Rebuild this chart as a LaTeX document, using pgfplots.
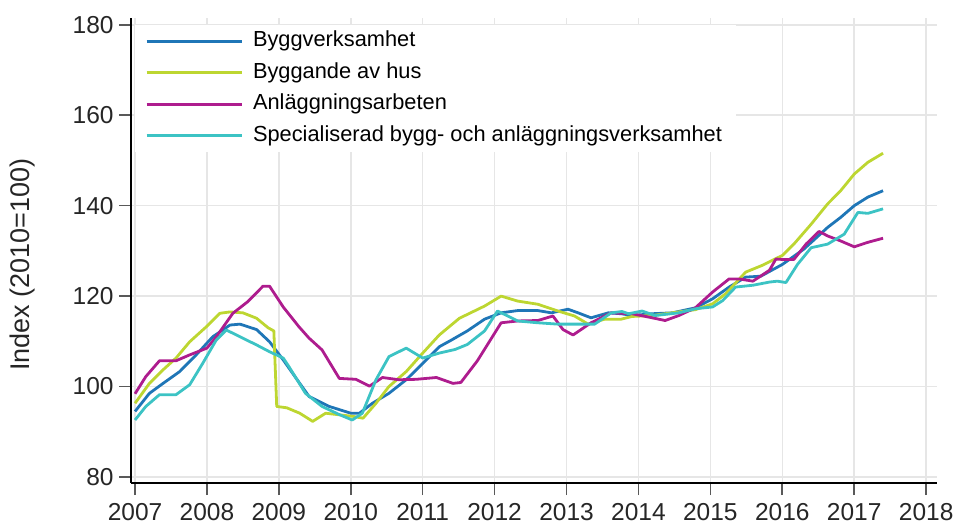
\documentclass[border=0pt]{standalone}
\usepackage{pgfplots}
\pgfplotsset{compat=1.18}
\usepackage{fontspec}
\setmainfont{Liberation Sans}
\definecolor{cblue}{HTML}{1F76B7}
\definecolor{cgreen}{HTML}{BDD631}
\definecolor{cpurple}{HTML}{AE1C8E}
\definecolor{ccyan}{HTML}{3CC3C4}
\definecolor{gridc}{HTML}{E6E6E6}
\begin{document}
\begin{tikzpicture}
\path[use as bounding box] (0,0) rectangle (955bp,530bp);
\begin{axis}[
  at={(131bp,47bp)}, anchor=south west,
  scale only axis, width=806bp, height=465bp,
  xmin=2006.944, xmax=2018.15, ymin=78.67, ymax=181.5,
  axis x line=bottom, axis y line=left,
  axis line style={black, line width=1.6bp, -},
  xtick={2007,...,2018}, ytick={80,100,...,180},
  tick align=outside, major tick length=12bp,
  tick style={line width=1.6bp, color=black!65},
  grid=major, major grid style={gridc, line width=1.5bp},
  /pgf/number format/assume math mode=true,
  /pgf/number format/set thousands separator={},
  ticklabel style={font=\fontsize{24.5bp}{26bp}\selectfont, text=black!85},
  xticklabel style={yshift=-5bp},
  yticklabel style={xshift=-2bp},
  ylabel={Index (2010=100)},
  ylabel style={at={(axis description cs:-0.135,0.47)}, anchor=center, font=\fontsize{27bp}{29bp}\selectfont, text=black!85},
  legend cell align=left,
  legend style={at={(rel axis cs:0.005,0.985)}, anchor=north west, draw=none, fill=white,
    font=\fontsize{21.8bp}{23bp}\selectfont, inner xsep=10bp, inner ysep=6bp,
    row sep=11.5bp, nodes={text height=15.5bp, text depth=4.5bp, inner xsep=4bp, inner ysep=0bp},
    /tikz/every odd column/.append style={column sep=6bp}},
  legend image code/.code={\draw[#1] (0bp,0bp) -- (95bp,0bp);},
  every axis plot/.append style={line width=2.8bp, line join=round},
]
\addplot[cblue] coordinates {
(2007.0,94.5) (2007.2,98.5) (2007.39,100.7) (2007.62,103.3) (2007.85,107) (2008.08,111) (2008.32,113.6) (2008.46,113.8) (2008.69,112.6) (2008.87,109.9) (2009.06,105.9) (2009.29,100.7) (2009.42,97.8) (2009.70,95.6) (2010.0,94.1) (2010.12,94.1) (2010.30,96.3) (2010.53,98.5) (2010.77,101.5) (2011.0,105.1) (2011.23,108.8) (2011.39,110.2) (2011.62,112.3) (2011.86,114.9) (2012.09,116.3) (2012.32,116.8) (2012.60,116.8) (2012.79,116.3) (2013.02,117.1) (2013.16,116.3) (2013.34,115.2) (2013.58,116.3) (2013.76,116.1) (2013.91,115.7) (2014.19,116.1) (2014.47,116.3) (2014.79,117.4) (2015.03,119.4) (2015.26,122) (2015.49,124.2) (2015.70,124.4) (2016.0,127) (2016.30,130.4) (2016.63,135.2) (2016.81,137.4) (2017.0,140) (2017.19,141.9) (2017.40,143.3)
};
\addlegendentry{Byggverksamhet}
\addplot[cgreen] coordinates {
(2007.0,96.3) (2007.2,100.7) (2007.39,103.7) (2007.57,106.3) (2007.76,109.9) (2007.99,113.2) (2008.18,116.2) (2008.32,116.5) (2008.50,116.3) (2008.69,115.1) (2008.85,113) (2008.93,112.3) (2008.97,95.6) (2009.11,95.3) (2009.29,94.1) (2009.47,92.3) (2009.65,94.1) (2010.03,93.4) (2010.17,93) (2010.35,96.3) (2010.53,100) (2010.77,103.3) (2011.0,107.4) (2011.23,111.4) (2011.51,115.1) (2011.86,117.8) (2012.09,120) (2012.32,118.9) (2012.60,118.2) (2012.88,116.7) (2013.11,115.6) (2013.30,113.8) (2013.53,114.9) (2013.76,114.9) (2013.91,115.5) (2014.19,115.7) (2014.56,116.5) (2014.79,117) (2015.03,118.3) (2015.21,120.5) (2015.49,125.3) (2015.72,126.8) (2016.0,129) (2016.16,131.5) (2016.40,135.9) (2016.63,140.4) (2016.81,143.3) (2017.0,147) (2017.19,149.6) (2017.40,151.6)
};
\addlegendentry{Byggande av hus}
\addplot[cpurple] coordinates {
(2007.0,98.4) (2007.15,102.2) (2007.34,105.7) (2007.57,105.7) (2007.76,107) (2008.0,108.5) (2008.13,111) (2008.36,116.2) (2008.57,118.8) (2008.78,122.2) (2008.87,122.2) (2009.06,117.6) (2009.28,113.2) (2009.42,110.7) (2009.60,108.1) (2009.84,101.8) (2010.07,101.6) (2010.26,100.1) (2010.44,102) (2010.67,101.5) (2010.91,101.6) (2011.19,102) (2011.42,100.7) (2011.53,100.9) (2011.76,105.7) (2012.09,114.1) (2012.32,114.5) (2012.60,114.6) (2012.81,115.6) (2012.95,112.6) (2013.09,111.4) (2013.34,114.1) (2013.62,116.3) (2013.76,116.2) (2013.91,116.1) (2014.19,115.2) (2014.37,114.6) (2014.56,115.7) (2014.79,117.4) (2015.03,120.9) (2015.26,123.8) (2015.40,123.8) (2015.59,123.3) (2015.82,125.7) (2015.91,128.2) (2016.0,128.1) (2016.16,128.1) (2016.33,131.5) (2016.51,134.3) (2016.63,133.3) (2016.81,132.2) (2017.0,130.9) (2017.19,131.9) (2017.40,132.8)
};
\addlegendentry{Anläggningsarbeten}
\addplot[ccyan] coordinates {
(2007.0,92.6) (2007.15,95.6) (2007.34,98.2) (2007.57,98.2) (2007.76,100.4) (2007.94,105.1) (2008.13,110.3) (2008.27,112.5) (2008.46,111) (2008.69,109.2) (2008.87,107.7) (2009.06,106.3) (2009.14,104.4) (2009.37,98.5) (2009.60,95.6) (2009.84,93.8) (2010.02,92.6) (2010.16,94.1) (2010.35,101.5) (2010.53,106.6) (2010.77,108.5) (2011.0,106.3) (2011.23,107.4) (2011.45,108.2) (2011.62,109.3) (2011.86,112.3) (2012.04,116.7) (2012.13,116) (2012.32,114.5) (2012.60,114.1) (2012.88,113.8) (2013.16,113.8) (2013.39,113.8) (2013.62,116.3) (2013.77,116.6) (2013.86,116.1) (2014.05,116.7) (2014.23,115.7) (2014.56,116.3) (2014.79,117.2) (2015.03,117.6) (2015.17,119) (2015.35,122) (2015.59,122.4) (2015.82,123.1) (2015.93,123.3) (2016.05,123) (2016.21,127) (2016.40,130.7) (2016.63,131.5) (2016.86,133.7) (2017.05,138.5) (2017.19,138.3) (2017.40,139.3)
};
\addlegendentry{Specialiserad bygg- och anläggningsverksamhet}
\end{axis}
\end{tikzpicture}
\end{document}
